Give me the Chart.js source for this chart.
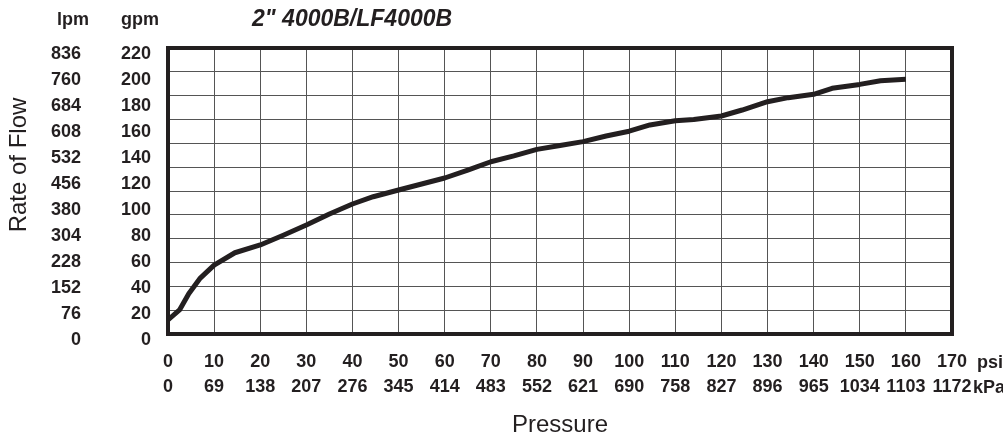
<!DOCTYPE html>
<html>
<head>
<meta charset="utf-8">
<script src="https://cdn.jsdelivr.net/npm/chart.js@4.4.1/dist/chart.umd.min.js"></script>
<style>
  body { margin: 0; background: #fff; }
</style>
</head>
<body>
<canvas id="chartFlow" width="1003" height="440"></canvas>
<script>
// curve (psi -> gpm)
const psi = [0, 2.5, 4.5, 7, 10, 14.5, 20, 25, 30, 35, 40, 44.5, 50, 55, 60, 65, 70, 75, 80, 85,
             90, 95, 100, 104.5, 110, 114, 120, 124.5, 130, 134.5, 140, 144, 150, 154.5, 160]
const gpm = [10.8, 18.5, 31, 43, 53, 62.5, 68.5, 76, 83.8, 92.3, 100, 105.6, 110.8, 115.4, 120, 126, 132.5, 137, 142, 145,
             148, 152.3, 156, 160.8, 164, 165, 167.7, 172.3, 178.7, 181.8, 184.4, 189, 192, 194.8, 196]

// tick labels
const psiLabels = [0, 10, 20, 30, 40, 50, 60, 70, 80, 90, 100, 110, 120, 130, 140, 150, 160, 170]
const kpaLabels = [0, 69, 138, 207, 276, 345, 414, 483, 552, 621, 690, 758, 827, 896, 965, 1034, 1103, 1172]
const gpmLabels = [0, 20, 40, 60, 80, 100, 120, 140, 160, 180, 200, 220]
const lpmLabels = [0, 76, 152, 228, 304, 380, 456, 532, 608, 684, 760, 836]

const INK = '#231f20'
const SANS = "'Liberation Sans', Arial, sans-serif"
const tickFont = { family: SANS, size: 18, weight: 'bold', lineHeight: 1.39 }

const frameAndText = {
    id: 'frameAndText',
    beforeDatasetsDraw(chart) {
        const { ctx, chartArea: a } = chart
        ctx.save()
        ctx.strokeStyle = INK
        ctx.lineWidth = 4
        ctx.strokeRect(a.left, a.top, a.right - a.left, a.bottom - a.top)
        ctx.restore()
    },
    afterDraw(chart) {
        const { ctx, chartArea: a, scales } = chart
        ctx.save()
        ctx.fillStyle = INK

        // title
        ctx.font = 'italic bold 23px ' + SANS
        ctx.textAlign = 'left'
        ctx.textBaseline = 'alphabetic'
        ctx.fillText('2" 4000B/LF4000B', 252, 26)

        // unit headers over the y labels
        ctx.font = 'bold 18px ' + SANS
        ctx.textAlign = 'right'
        ctx.fillText('lpm', scales.lpm.right - scales.lpm.options.ticks.padding, 25)
        ctx.fillText('gpm', scales.y.right - scales.y.options.ticks.padding, 25)

        // unit labels right of the x ticks
        ctx.textAlign = 'left'
        ctx.textBaseline = 'middle'
        ctx.fillText('psi', a.right + 25, a.bottom + 29)
        ctx.fillText('kPa', a.right + 21, a.bottom + 54)

        // y title
        ctx.font = '24px ' + SANS
        ctx.translate(19, 165)
        ctx.rotate(-Math.PI / 2)
        ctx.textAlign = 'center'
        ctx.fillText('Rate of Flow', 0, 0)
        ctx.restore()
    }
}

new Chart(document.getElementById('chartFlow'), {
    type: 'line',
    data: {
        datasets: [{
            data: psi.map((p, i) => ({ x: p, y: gpm[i] })),
            xAxisID: 'x',
            yAxisID: 'y',
            borderColor: INK,
            borderWidth: 5,
            pointRadius: 0,
            tension: 0,
            borderJoinStyle: 'round',
            borderCapStyle: 'butt'
        }]
    },
    options: {
        responsive: false,
        animation: false,
        layout: { padding: { top: 48, right: 51, left: 0, bottom: 0 } },
        plugins: { legend: { display: false }, tooltip: { enabled: false } },
        scales: {
            x: {
                type: 'linear',
                min: 0,
                max: 170,
                afterBuildTicks: s => { s.ticks = psiLabels.map(v => ({ value: v })) },
                afterFit: s => { s.height = 106 },
                ticks: {
                    autoSkip: false,
                    maxRotation: 0,
                    padding: 16,
                    color: INK,
                    font: tickFont,
                    callback: (v, i) => [String(psiLabels[i]), String(kpaLabels[i])]
                },
                grid: { color: '#555', lineWidth: 1, drawTicks: false },
                border: { display: false },
                title: {
                    display: true,
                    text: 'Pressure',
                    color: INK,
                    font: { family: SANS, size: 24 },
                    padding: { top: 0, bottom: 0 }
                }
            },
            y: {
                type: 'linear',
                position: 'left',
                weight: 1,
                min: 0,
                max: 220,
                afterBuildTicks: s => { s.ticks = gpmLabels.map(v => ({ value: v })) },
                afterFit: s => { s.width = 73 },
                ticks: { autoSkip: false, padding: 9, labelOffset: 6, color: INK, font: tickFont },
                grid: { display: false },
                border: { display: false }
            },
            lpm: {
                type: 'linear',
                position: 'left',
                weight: 2,
                min: 0,
                max: 836,
                afterBuildTicks: s => { s.ticks = lpmLabels.map(v => ({ value: v })) },
                afterFit: s => { s.width = 95 },
                ticks: { autoSkip: false, padding: 6, labelOffset: 6, color: INK, font: tickFont },
                grid: { display: false },
                border: { display: false }
            },
            yGrid: {
                type: 'linear',
                position: 'right',
                min: 0,
                max: 220,
                afterFit: s => { s.width = 0 },
                ticks: { display: false, stepSize: 220 / 12 },
                grid: { color: '#555', lineWidth: 1, drawTicks: false },
                border: { display: false }
            }
        }
    },
    plugins: [frameAndText]
})
</script>
</body>
</html>
